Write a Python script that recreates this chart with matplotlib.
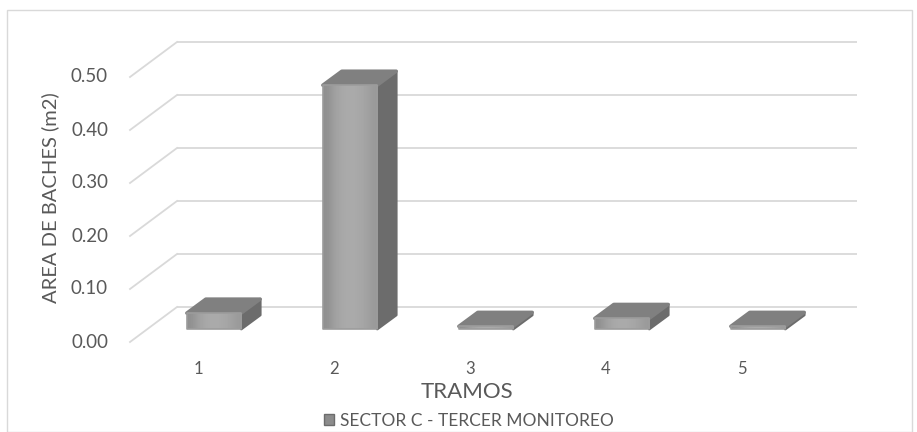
import matplotlib
matplotlib.use("Agg")
import matplotlib.pyplot as plt
import numpy as np
from matplotlib.patches import Polygon, Rectangle, Patch

plt.rcParams['font.family'] = ['Lato', 'DejaVu Sans']

# data
tramos = ['1', '2', '3', '4', '5']
area = [0.03, 0.46, 0.005, 0.02, 0.005]
yticks = [0.00, 0.10, 0.20, 0.30, 0.40, 0.50]
serie = 'SECTOR C - TERCER MONITOREO'

TXT = '#595959'
GRID = '#d9d9d9'

fig = plt.figure(figsize=(9.17, 4.32), dpi=100)
# front plane of the 3D box (where the tick labels sit)
ax = fig.add_axes([130 / 917, 90 / 432, 680 / 917, 265 / 432])
ax.set_xlim(0.5, 5.5)
ax.set_ylim(0, 0.5)
ax.axis('off')

def shift(px, py):
    """pixel offset -> offset in data units"""
    inv = ax.transData.inverted()
    x0, y0 = inv.transform((0, 0))
    x1, y1 = inv.transform((px, py))
    return x1 - x0, y1 - y0

wall_dx, wall_dy = shift(47, 35)     # back wall
bar_dx, bar_dy = shift(16, 13)       # bar front faces
dep_dx, dep_dy = shift(19, 14)       # bar depth

# gridlines: back wall + slanted side lines
for v in yticks:
    ax.plot([0.5 + wall_dx, 5.5 + wall_dx], [v + wall_dy, v + wall_dy],
            color=GRID, lw=1.3, solid_capstyle='butt', clip_on=False, zorder=1)
    ax.plot([0.5, 0.5 + wall_dx], [v, v + wall_dy],
            color=GRID, lw=1.3, clip_on=False, zorder=1)
    ax.text(0.5 - shift(22, 0)[0], v, f'{v:.2f}', ha='right', va='center',
            fontsize=13.5, color=TXT)

x = np.arange(1, len(tramos) + 1)
w = 0.4
for xi, v in zip(x, area):
    xl = xi - w / 2 + bar_dx
    xr = xi + w / 2 + bar_dx
    y0 = bar_dy
    y1 = bar_dy + v
    # side face
    side = Polygon([(xr, y0), (xr + dep_dx, y0 + dep_dy),
                    (xr + dep_dx, y1 + dep_dy), (xr, y1)],
                   closed=True, fc='#6c6c6c', ec='#6c6c6c', lw=2.0,
                   joinstyle='round', zorder=3, clip_on=False)
    ax.add_patch(side)
    # top face
    top = Polygon([(xl, y1), (xr, y1), (xr + dep_dx, y1 + dep_dy),
                   (xl + dep_dx, y1 + dep_dy)],
                  closed=True, fc='#808080', ec='#808080', lw=2.5,
                  joinstyle='round', zorder=3, clip_on=False)
    ax.add_patch(top)
    # front face with a soft horizontal shading
    grad = np.array([[0.56, 0.63, 0.66, 0.67, 0.66, 0.64, 0.60]])
    ax.imshow(grad, cmap='gray', vmin=0, vmax=1, aspect='auto',
              extent=(xl, xr, y0, y1), zorder=4, interpolation='bicubic',
              clip_on=False)
    ax.add_patch(Rectangle((xl, y0), xr - xl, v, fc='none', ec='#9c9c9c',
                           lw=1.2, joinstyle='round', zorder=5, clip_on=False))

ax.set_xlim(0.5, 5.5)
ax.set_ylim(0, 0.5)

for xi, t in zip(x, tramos):
    ax.text(xi, -0.05, t, ha='center', va='center', fontsize=12, color=TXT)

fig.text(467 / 917, 1 - 392 / 432, 'TRAMOS', ha='center', va='center',
         fontsize=16, color=TXT)
fig.text(50 / 917, 1 - 198 / 432, 'AREA DE BACHES (m2)', ha='center',
         va='center', rotation=90, fontsize=14.5, color=TXT)

handle = Patch(facecolor='#8c8c8c', edgecolor='#6c6c6c', lw=1)
fig.legend(handles=[handle], labels=[serie], loc='center',
           bbox_to_anchor=(469 / 917, 1 - 421 / 432), frameon=False,
           fontsize=12.5, labelcolor=TXT, handlelength=0.6, handleheight=0.6,
           handletextpad=0.35, borderpad=0)

# chart border
fig.patches.append(Rectangle((7 / 917, 0), 905 / 917, 422 / 432,
                             transform=fig.transFigure, fill=False,
                             ec='#d9d9d9', lw=1.0))

fig.savefig('out.png', dpi=100)
